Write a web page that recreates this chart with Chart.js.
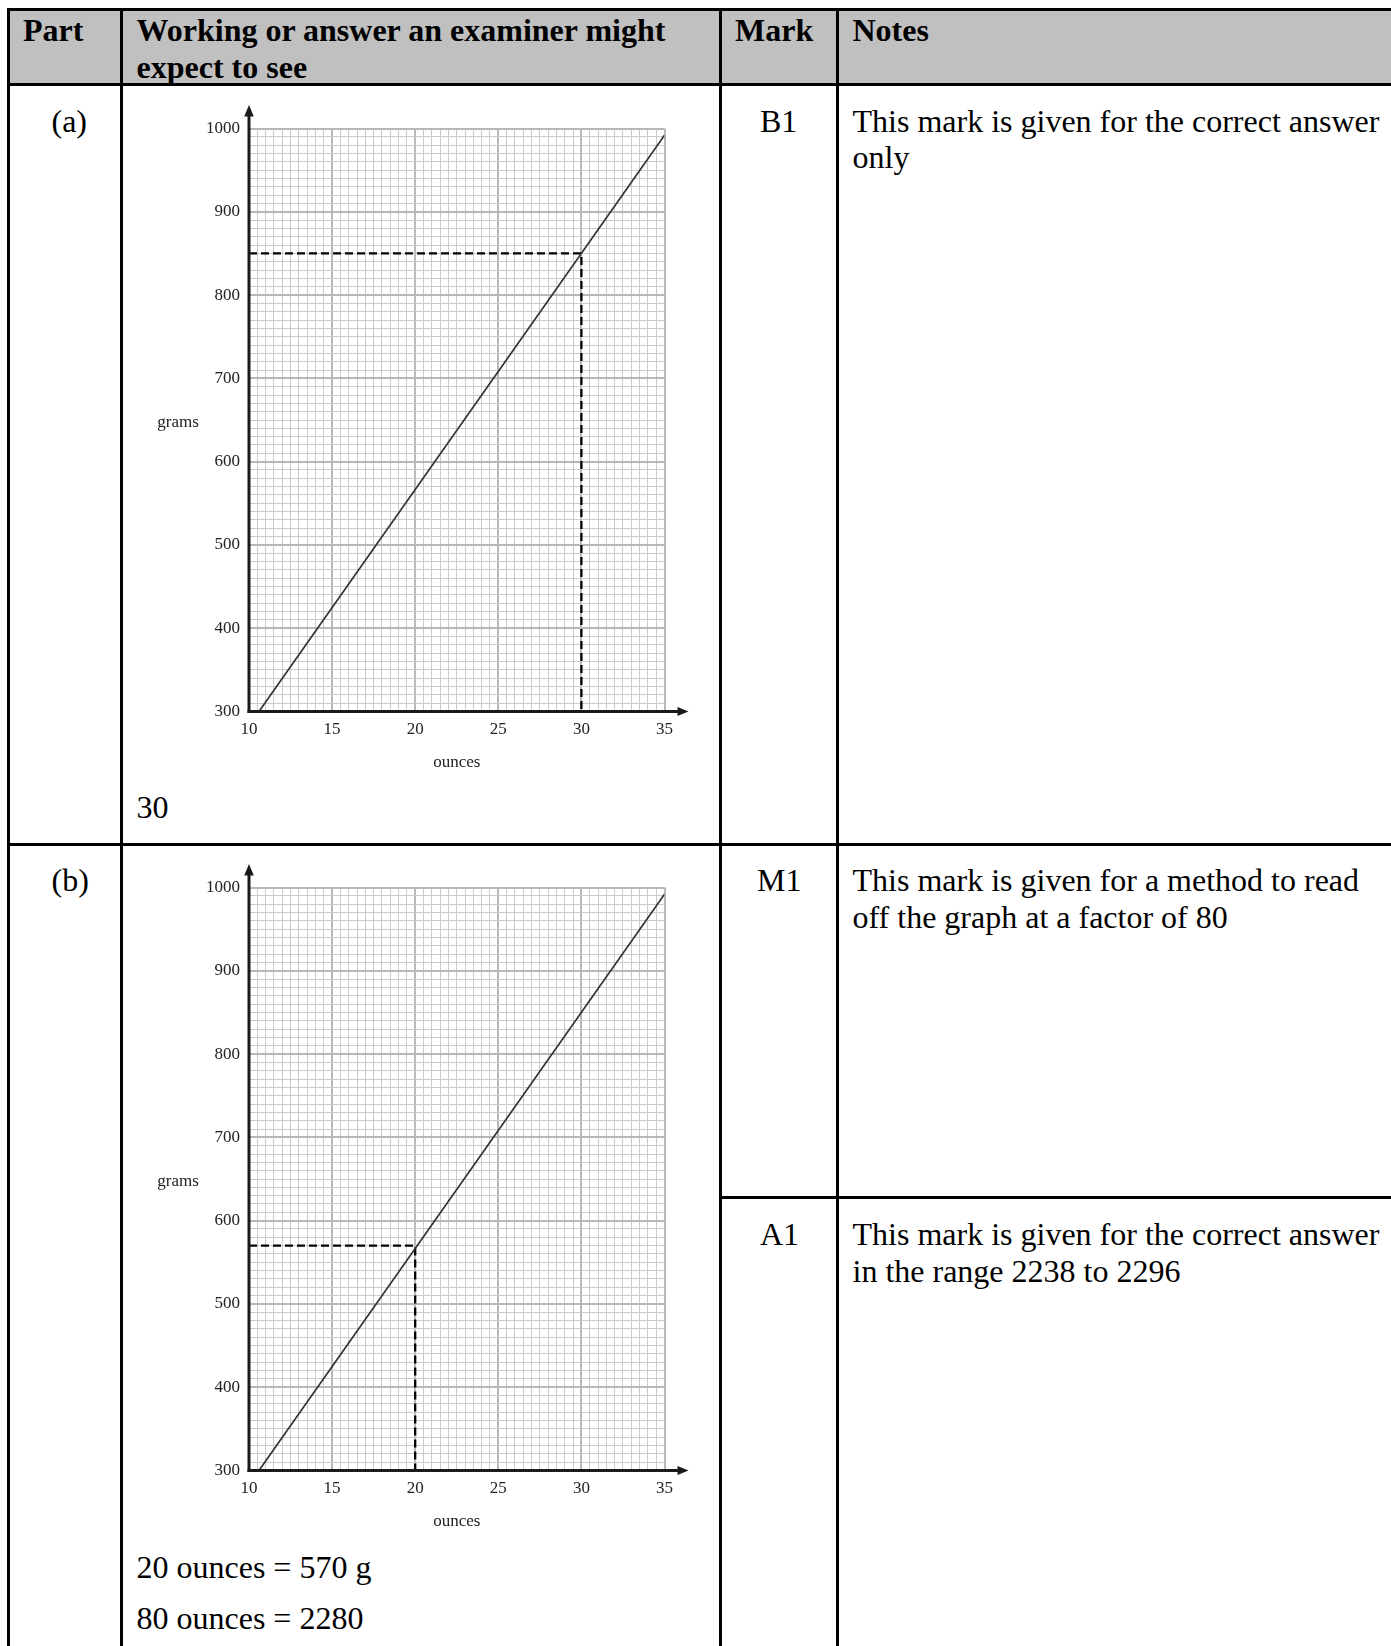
<!DOCTYPE html>
<html><head><meta charset="utf-8">
<script src="https://cdn.jsdelivr.net/npm/chart.js@4.4.1/dist/chart.umd.min.js"></script>
<style>
html,body{margin:0;padding:0;background:#fff;}
body{width:1391px;height:1646px;position:relative;overflow:hidden;font-family:"Liberation Serif","Times New Roman",serif;color:#000;}
.t{position:absolute;font-size:32px;line-height:36.8px;white-space:nowrap;}
.b{font-weight:bold;}
.rule{position:absolute;background:#000;}
canvas{position:absolute;}
</style></head><body>
<div style="position:absolute;left:7.5px;top:9.5px;width:1384px;height:74.5px;background:#c0c0c0"></div>
<div class="rule" style="left:6.5px;top:8px;width:1385px;height:3px"></div>
<div class="rule" style="left:6.5px;top:8px;width:3px;height:1638px"></div>
<div class="rule" style="left:120px;top:8px;width:3px;height:1638px"></div>
<div class="rule" style="left:718.5px;top:8px;width:3px;height:1638px"></div>
<div class="rule" style="left:836px;top:8px;width:3px;height:1638px"></div>
<div class="rule" style="left:6.5px;top:82.5px;width:1385px;height:3px"></div>
<div class="rule" style="left:6.5px;top:842.5px;width:1385px;height:3px"></div>
<div class="rule" style="left:718.5px;top:1196px;width:673px;height:3px"></div>

<div class="t b" style="left:23px;top:11.8px">Part</div>
<div class="t b" style="left:136.5px;top:11.8px">Working or answer an examiner might<br>expect to see</div>
<div class="t b" style="left:735px;top:11.8px">Mark</div>
<div class="t b" style="left:852.5px;top:11.8px">Notes</div>

<div class="t" style="left:51.5px;top:102.5px">(a)</div>
<div class="t" style="left:760px;top:102.5px">B1</div>
<div class="t" style="left:852.5px;top:102.5px">This mark is given for the correct answer<br>only</div>
<div class="t" style="left:136.5px;top:789px">30</div>

<div class="t" style="left:51.5px;top:862px">(b)</div>
<div class="t" style="left:757px;top:862px">M1</div>
<div class="t" style="left:852.5px;top:862px">This mark is given for a method to read<br>off the graph at a factor of 80</div>
<div class="t" style="left:760px;top:1216px">A1</div>
<div class="t" style="left:852.5px;top:1216px">This mark is given for the correct answer<br>in the range 2238 to 2296</div>
<div class="t" style="left:136.5px;top:1549px">20 ounces = 570 g</div>
<div class="t" style="left:136.5px;top:1600px">80 ounces = 2280</div>

<canvas id="chartA" width="570" height="700" style="left:140px;top:90px"></canvas>
<canvas id="chartB" width="570" height="700" style="left:140px;top:849px"></canvas>

<script>
// ---- data ----
const ounceTicks = [10, 15, 20, 25, 30, 35];
const gramTicks = [300, 400, 500, 600, 700, 800, 900, 1000];
const conversionOunces = [10.6, 35];
const conversionGrams = [300, 992];
const readA_ounces = [10, 30, 30];
const readA_grams = [850, 850, 300];
const readB_ounces = [10, 20, 20];
const readB_grams = [570, 570, 300];
const xTitle = 'ounces';
const yTitle = 'grams';

const FONT = {family: '"Liberation Serif","Times New Roman",serif', size: 17};
const isMajor = (v, step) => Math.abs(v / step - Math.round(v / step)) < 1e-6;
const toPts = (xs, ys) => xs.map((x, i) => ({x, y: ys[i]}));

const axisDecor = {
  id: 'axisDecor',
  afterDraw(chart) {
    const {ctx, chartArea: a} = chart;
    const x0 = chart.scales.x.getPixelForValue(ounceTicks[0]);
    const y0 = chart.scales.y.getPixelForValue(gramTicks[0]);
    ctx.save();
    ctx.strokeStyle = '#1a1a1a';
    ctx.fillStyle = '#1a1a1a';
    ctx.lineWidth = 3;
    ctx.beginPath();
    ctx.moveTo(x0, y0 + 1.5);
    ctx.lineTo(x0, a.top - 13);
    ctx.stroke();
    ctx.beginPath();
    ctx.moveTo(x0, a.top - 23.5);
    ctx.lineTo(x0 - 4.8, a.top - 12);
    ctx.lineTo(x0 + 4.8, a.top - 12);
    ctx.closePath();
    ctx.fill();
    ctx.beginPath();
    ctx.moveTo(x0 - 1.5, y0);
    ctx.lineTo(a.right + 15, y0);
    ctx.stroke();
    ctx.beginPath();
    ctx.moveTo(a.right + 24, y0);
    ctx.lineTo(a.right + 13, y0 - 4.5);
    ctx.lineTo(a.right + 13, y0 + 4.5);
    ctx.closePath();
    ctx.fill();
    // horizontal y-axis title
    ctx.font = '17px "Liberation Serif","Times New Roman",serif';
    ctx.fillStyle = '#222';
    ctx.textAlign = 'center';
    ctx.textBaseline = 'alphabetic';
    ctx.fillText(yTitle, a.left - 71, (a.top + a.bottom) / 2 + 7);
    ctx.restore();
  }
};

function makeChart(id, readOz, readG) {
  return new Chart(document.getElementById(id), {
    type: 'line',
    data: {
      datasets: [
        {data: toPts(conversionOunces, conversionGrams), borderColor: '#333', borderWidth: 1.7, pointRadius: 0, tension: 0},
        {data: toPts(readOz, readG), borderColor: '#000', borderWidth: 2.3, borderDash: [8, 4], pointRadius: 0, tension: 0}
      ]
    },
    options: {
      responsive: false,
      animation: false,
      devicePixelRatio: 1,
      layout: {padding: {left: 0, right: 45.5, top: 38.5, bottom: 0}},
      plugins: {legend: {display: false}, tooltip: {enabled: false}},
      scales: {
        x: {
          type: 'linear',
          min: ounceTicks[0], max: ounceTicks[ounceTicks.length - 1],
          border: {display: false},
          grid: {
            drawTicks: false,
            color: c => isMajor(c.tick.value, 5) ? '#b8b8b8' : '#cbcbcb',
            lineWidth: c => isMajor(c.tick.value, 5) ? 2 : 1
          },
          ticks: {
            stepSize: 0.5, autoSkip: false, maxRotation: 0, minRotation: 0,
            padding: 8, font: FONT, color: '#222',
            callback: v => ounceTicks.includes(v) ? String(v) : ''
          },
          title: {display: true, text: xTitle, font: FONT, color: '#222', padding: {top: 0, bottom: 17}},
          afterFit: s => { s.height = 78.5; }
        },
        y: {
          type: 'linear',
          min: gramTicks[0], max: gramTicks[gramTicks.length - 1],
          border: {display: false},
          grid: {
            drawTicks: false,
            color: c => isMajor(c.tick.value, 100) ? '#b8b8b8' : '#cbcbcb',
            lineWidth: c => isMajor(c.tick.value, 100) ? 2 : 1
          },
          ticks: {
            stepSize: 10, autoSkip: false, padding: 9, font: FONT, color: '#222',
            callback: v => gramTicks.includes(v) ? String(v) : ''
          },
          afterFit: s => { s.width = 109; }
        }
      }
    },
    plugins: [axisDecor]
  });
}

makeChart('chartA', readA_ounces, readA_grams);
makeChart('chartB', readB_ounces, readB_grams);
</script>
</body></html>
